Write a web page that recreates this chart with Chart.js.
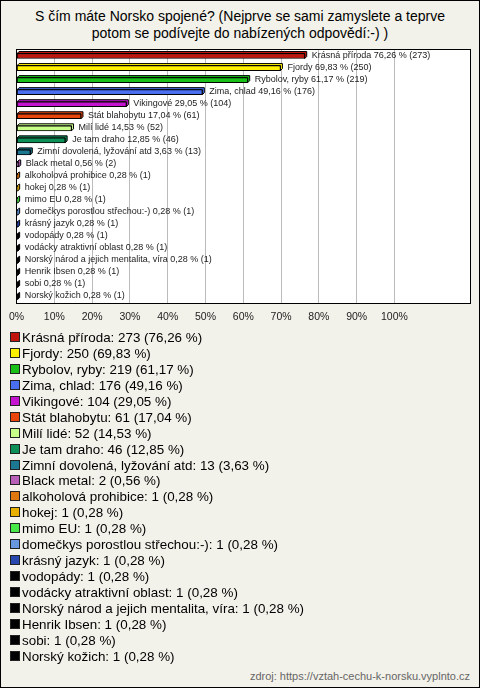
<!DOCTYPE html>
<html>
<head>
<meta charset="utf-8">
<script src="https://cdn.jsdelivr.net/npm/chart.js@4/dist/chart.umd.min.js"></script>
<style>
  html, body { margin: 0; padding: 0; }
  #page {
    position: relative; width: 480px; height: 688px; box-sizing: border-box;
    border: 1px solid #000; background: #f3f2ea; overflow: hidden;
    font-family: "Liberation Sans", Arial, sans-serif; color: #000;
  }
  #title {
    position: absolute; left: 0; top: 7px; width: 478px; text-align: center;
    font-size: 14px; line-height: 17px;
  }
  #chartBox { position: absolute; left: 0; top: 44px; width: 478px; height: 290px; }
  #legend { position: absolute; left: 9px; top: 329px; font-size: 13.4px; }
  .row { height: 15.95px; line-height: 16px; white-space: nowrap; }
  .box {
    display: inline-block; width: 8px; height: 8px; border: 1px solid #222;
    margin-right: 2px; vertical-align: 0px;
  }
  #source {
    position: absolute; right: 9px; top: 669px; font-size: 11px; color: #666;
  }
</style>
</head>
<body>
<div id="page">
  <div id="title">S čím máte Norsko spojené? (Nejprve se sami zamyslete a teprve<br>potom se podívejte do nabízených odpovědí:-) )</div>
  <div id="chartBox"><canvas id="chart"></canvas></div>
  <div id="legend"></div>
  <div id="source">zdroj: https://vztah-cechu-k-norsku.vyplnto.cz</div>
</div>
<script>
const categories = [
  'Krásná příroda', 'Fjordy', 'Rybolov, ryby', 'Zima, chlad', 'Vikingové',
  'Stát blahobytu', 'Milí lidé', 'Je tam draho', 'Zimní dovolená, lyžování atd',
  'Black metal', 'alkoholová prohibice', 'hokej', 'mimo EU',
  'domečkys porostlou střechou:-)', 'krásný jazyk', 'vodopády',
  'vodácky atraktivní oblast', 'Norský národ a jejich mentalita, víra',
  'Henrik Ibsen', 'sobi', 'Norský kožich'
];
const counts = [273, 250, 219, 176, 104, 61, 52, 46, 13, 2, 1, 1, 1, 1, 1, 1, 1, 1, 1, 1, 1];
const percents = [76.26, 69.83, 61.17, 49.16, 29.05, 17.04, 14.53, 12.85, 3.63, 0.56,
  0.28, 0.28, 0.28, 0.28, 0.28, 0.28, 0.28, 0.28, 0.28, 0.28, 0.28];
const colors = [
  '#c0150c', '#fff000', '#18c018', '#4a6ef0', '#c414d0', '#e8440c', '#c8ff88',
  '#0c9058', '#1c7890', '#b860b8', '#e07810', '#e8b000', '#48e848', '#6898e0',
  '#2848b0', '#000000', '#000000', '#000000', '#000000', '#000000', '#000000'
];
const tickValues = [0, 10, 20, 30, 40, 50, 60, 70, 80, 90, 100];

const fmt = v => v.toFixed(2).replace('.', ',');

// legend as html rows
const legend = document.getElementById('legend');
categories.forEach((c, i) => {
  const row = document.createElement('div');
  row.className = 'row';
  row.innerHTML = '<span class="box" style="background:' + colors[i] + '"></span>' +
    c + ': ' + counts[i] + ' (' + fmt(percents[i]) + ' %)';
  legend.appendChild(row);
});

const plotFrame = {
  id: 'plotFrame',
  beforeDraw(chart) {
    const { ctx, chartArea: a } = chart;
    ctx.save();
    ctx.fillStyle = '#ffffff';
    ctx.fillRect(a.left, a.top, a.right - a.left, a.bottom - a.top);
    ctx.restore();
  },
  afterDraw(chart) {
    const { ctx, chartArea: a } = chart;
    ctx.save();
    ctx.strokeStyle = '#000';
    ctx.lineWidth = 1;
    ctx.strokeRect(Math.round(a.left) - 0.5, Math.round(a.top) - 0.5,
      Math.round(a.right - a.left) + 1, Math.round(a.bottom - a.top) + 1);
    ctx.restore();
  }
};

// 3d-ish back face behind each bar, then the value labels
const barDepth = {
  id: 'barDepth',
  beforeDatasetsDraw(chart) {
    const ctx = chart.ctx;
    const meta = chart.getDatasetMeta(0);
    ctx.save();
    meta.data.forEach((bar, i) => {
      const { x, y, base, height } = bar.getProps(['x', 'y', 'base', 'height'], true);
      const top = y - height / 2, d = 2;
      ctx.fillStyle = colors[i];
      ctx.strokeStyle = '#000';
      ctx.lineWidth = 1;
      ctx.beginPath();
      ctx.moveTo(base, top);
      ctx.lineTo(base + d, top - d);
      ctx.lineTo(x + d, top - d);
      ctx.lineTo(x + d, top + height - d);
      ctx.lineTo(x, top + height);
      ctx.lineTo(x, top);
      ctx.closePath();
      ctx.fill();
      ctx.stroke();
    });
    ctx.restore();
  },
  afterDatasetsDraw(chart) {
    const ctx = chart.ctx;
    const meta = chart.getDatasetMeta(0);
    ctx.save();
    ctx.font = '9px "Liberation Sans", Arial, sans-serif';
    ctx.fillStyle = '#222';
    ctx.textBaseline = 'middle';
    meta.data.forEach((bar, i) => {
      const text = categories[i] + ' ' + fmt(percents[i]) + ' % (' + counts[i] + ')';
      ctx.fillText(text, bar.x + 7, bar.y - 1);
    });
    ctx.restore();
  }
};

new Chart(document.getElementById('chart'), {
  type: 'bar',
  data: {
    labels: categories,
    datasets: [{
      data: percents,
      backgroundColor: colors,
      borderColor: '#000',
      borderWidth: 1,
      borderSkipped: false,
      barThickness: 5
    }]
  },
  options: {
    indexAxis: 'y',
    animation: false,
    responsive: true,
    maintainAspectRatio: false,
    layout: { padding: { left: 11, right: 9, top: 5, bottom: 0 } },
    plugins: { legend: { display: false }, tooltip: { enabled: false }, title: { display: false } },
    scales: {
      y: { display: false },
      x: {
        min: 0,
        max: 120,
        afterFit(scale) { scale.height = 32; },
        afterBuildTicks(scale) { scale.ticks = tickValues.map(v => ({ value: v })); },
        border: { display: false },
        grid: { color: '#bbbbbb', drawTicks: false },
        ticks: {
          padding: 8,
          color: '#222',
          font: { family: '"Liberation Sans", Arial, sans-serif', size: 10.5 },
          callback: v => v + '%'
        }
      }
    }
  },
  plugins: [plotFrame, barDepth]
});
</script>
</body>
</html>
